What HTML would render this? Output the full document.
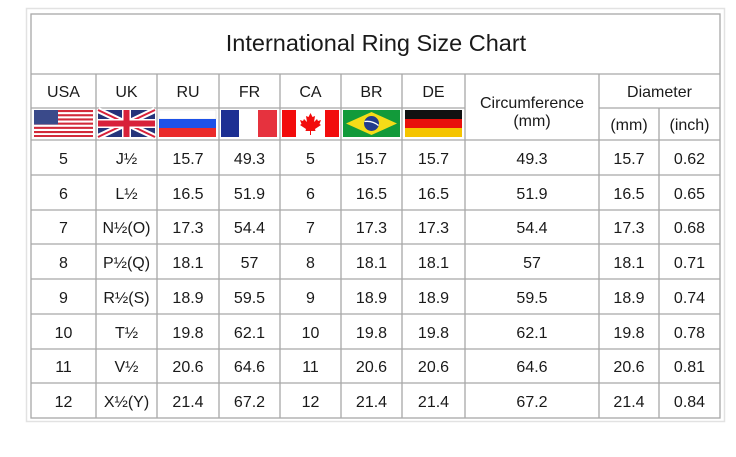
<!DOCTYPE html>
<html><head><meta charset="utf-8"><style>
html,body{margin:0;padding:0;background:#fff;}
svg{display:block;font-family:"Liberation Sans","DejaVu Sans",sans-serif;}
</style></head><body>
<svg width="736" height="457" viewBox="0 0 736 457" xmlns="http://www.w3.org/2000/svg">
<rect x="26.5" y="8.5" width="698" height="413" fill="none" stroke="#e2e2e2" stroke-width="1.5"/>
<g stroke="#a8a8a8" stroke-width="1.3" fill="none">
<rect x="31" y="14" width="689" height="404"/>
<line x1="31" y1="74" x2="720" y2="74"/>
<line x1="31" y1="108" x2="465" y2="108"/>
<line x1="599" y1="108" x2="720" y2="108"/>
<line x1="31" y1="140" x2="720" y2="140"/>
<line x1="31" y1="175" x2="720" y2="175"/>
<line x1="31" y1="210" x2="720" y2="210"/>
<line x1="31" y1="244" x2="720" y2="244"/>
<line x1="31" y1="279" x2="720" y2="279"/>
<line x1="31" y1="314" x2="720" y2="314"/>
<line x1="31" y1="349" x2="720" y2="349"/>
<line x1="31" y1="383" x2="720" y2="383"/>
<line x1="96" y1="74" x2="96" y2="418"/>
<line x1="157" y1="74" x2="157" y2="418"/>
<line x1="219" y1="74" x2="219" y2="418"/>
<line x1="280" y1="74" x2="280" y2="418"/>
<line x1="341" y1="74" x2="341" y2="418"/>
<line x1="402" y1="74" x2="402" y2="418"/>
<line x1="465" y1="74" x2="465" y2="418"/>
<line x1="599" y1="74" x2="599" y2="418"/>
<line x1="659" y1="108" x2="659" y2="418"/>
</g>
<g>
<rect x="34" y="110" width="59" height="27" fill="#fff"/>
<g fill="#d22a3a">
<rect x="34" y="110" width="59" height="2.1"/><rect x="34" y="114.2" width="59" height="2.1"/><rect x="34" y="118.4" width="59" height="2.1"/><rect x="34" y="122.6" width="59" height="2.1"/><rect x="34" y="126.8" width="59" height="2.1"/><rect x="34" y="131" width="59" height="2.1"/><rect x="34" y="135" width="59" height="2"/>
</g>
<rect x="34" y="110" width="24" height="14.5" fill="#3a4a8a"/>
<rect x="98" y="110" width="57" height="27" fill="#24337a"/>
<line x1="98" y1="110" x2="155" y2="137" stroke="#fff" stroke-width="6"/>
<line x1="155" y1="110" x2="98" y2="137" stroke="#fff" stroke-width="6"/>
<line x1="98" y1="110" x2="155" y2="137" stroke="#d8213a" stroke-width="2"/>
<line x1="155" y1="110" x2="98" y2="137" stroke="#d8213a" stroke-width="2"/>
<rect x="98" y="119" width="57" height="9" fill="#fff"/><rect x="122" y="110" width="9" height="27" fill="#fff"/>
<rect x="98" y="120.5" width="57" height="6" fill="#d8213a"/><rect x="123.5" y="110" width="6" height="27" fill="#d8213a"/>
<rect x="159" y="110" width="57" height="9" fill="#fff" stroke="#ddd" stroke-width="0.5"/>
<rect x="159" y="119" width="57" height="9" fill="#1d52e8"/>
<rect x="159" y="128" width="57" height="9" fill="#ea2a2a"/>
<rect x="221" y="110" width="18" height="27" fill="#1d2f93"/>
<rect x="239" y="110" width="19" height="27" fill="#fff"/>
<rect x="258" y="110" width="19" height="27" fill="#e6323e"/>
<rect x="282" y="110" width="57" height="27" fill="#fff"/>
<rect x="282" y="110" width="14" height="27" fill="#f20c0c"/>
<rect x="325" y="110" width="14" height="27" fill="#f20c0c"/>
<path d="M310.5 113 l2 4 2.5-1 -1 6 3-3 1 2 3-1 -1.5 4 1.5 1 -6 4 0.5 2h-4.5v4h-1v-4h-4.5l0.5-2 -6-4 1.5-1 -1.5-4 3 1 1-2 3 3 -1-6 2.5 1z" fill="#f20c0c"/>
<rect x="343" y="110" width="57" height="27" fill="#129a3a"/>
<polygon points="371.5,112 397,123.5 371.5,135 346,123.5" fill="#f5dc18"/>
<circle cx="371.5" cy="123.5" r="7.5" fill="#233c8c"/>
<path d="M364.5 121.5 q8 -1 14 4" stroke="#fff" stroke-width="1.3" fill="none"/>
<rect x="405" y="110" width="57" height="9" fill="#111"/>
<rect x="405" y="119" width="57" height="9" fill="#e8100c"/>
<rect x="405" y="128" width="57" height="9" fill="#f5c400"/>
</g>
<g fill="#1a1a1a" text-anchor="middle">
<text x="376" y="51" font-size="23.5">International Ring Size Chart</text>
<g font-size="16">
<text x="63.5" y="97">USA</text><text x="126.5" y="97">UK</text><text x="188" y="97">RU</text><text x="249.5" y="97">FR</text><text x="310.5" y="97">CA</text><text x="371.5" y="97">BR</text><text x="433.5" y="97">DE</text>
<text x="532" y="108">Circumference</text><text x="532" y="126">(mm)</text>
<text x="659.5" y="97">Diameter</text>
<text x="629" y="130">(mm)</text><text x="689.5" y="130">(inch)</text>
</g>
<g font-size="16">
<g><text x="63.5" y="164">5</text><text x="126.5" y="164">J½</text><text x="188" y="164">15.7</text><text x="249.5" y="164">49.3</text><text x="310.5" y="164">5</text><text x="371.5" y="164">15.7</text><text x="433.5" y="164">15.7</text><text x="532" y="164">49.3</text><text x="629" y="164">15.7</text><text x="689.5" y="164">0.62</text></g>
<g><text x="63.5" y="199">6</text><text x="126.5" y="199">L½</text><text x="188" y="199">16.5</text><text x="249.5" y="199">51.9</text><text x="310.5" y="199">6</text><text x="371.5" y="199">16.5</text><text x="433.5" y="199">16.5</text><text x="532" y="199">51.9</text><text x="629" y="199">16.5</text><text x="689.5" y="199">0.65</text></g>
<g><text x="63.5" y="233">7</text><text x="126.5" y="233">N½(O)</text><text x="188" y="233">17.3</text><text x="249.5" y="233">54.4</text><text x="310.5" y="233">7</text><text x="371.5" y="233">17.3</text><text x="433.5" y="233">17.3</text><text x="532" y="233">54.4</text><text x="629" y="233">17.3</text><text x="689.5" y="233">0.68</text></g>
<g><text x="63.5" y="268">8</text><text x="126.5" y="268">P½(Q)</text><text x="188" y="268">18.1</text><text x="249.5" y="268">57</text><text x="310.5" y="268">8</text><text x="371.5" y="268">18.1</text><text x="433.5" y="268">18.1</text><text x="532" y="268">57</text><text x="629" y="268">18.1</text><text x="689.5" y="268">0.71</text></g>
<g><text x="63.5" y="303">9</text><text x="126.5" y="303">R½(S)</text><text x="188" y="303">18.9</text><text x="249.5" y="303">59.5</text><text x="310.5" y="303">9</text><text x="371.5" y="303">18.9</text><text x="433.5" y="303">18.9</text><text x="532" y="303">59.5</text><text x="629" y="303">18.9</text><text x="689.5" y="303">0.74</text></g>
<g><text x="63.5" y="338">10</text><text x="126.5" y="338">T½</text><text x="188" y="338">19.8</text><text x="249.5" y="338">62.1</text><text x="310.5" y="338">10</text><text x="371.5" y="338">19.8</text><text x="433.5" y="338">19.8</text><text x="532" y="338">62.1</text><text x="629" y="338">19.8</text><text x="689.5" y="338">0.78</text></g>
<g><text x="63.5" y="372">11</text><text x="126.5" y="372">V½</text><text x="188" y="372">20.6</text><text x="249.5" y="372">64.6</text><text x="310.5" y="372">11</text><text x="371.5" y="372">20.6</text><text x="433.5" y="372">20.6</text><text x="532" y="372">64.6</text><text x="629" y="372">20.6</text><text x="689.5" y="372">0.81</text></g>
<g><text x="63.5" y="407">12</text><text x="126.5" y="407">X½(Y)</text><text x="188" y="407">21.4</text><text x="249.5" y="407">67.2</text><text x="310.5" y="407">12</text><text x="371.5" y="407">21.4</text><text x="433.5" y="407">21.4</text><text x="532" y="407">67.2</text><text x="629" y="407">21.4</text><text x="689.5" y="407">0.84</text></g>
</g>
</g>
</svg>
</body></html>
